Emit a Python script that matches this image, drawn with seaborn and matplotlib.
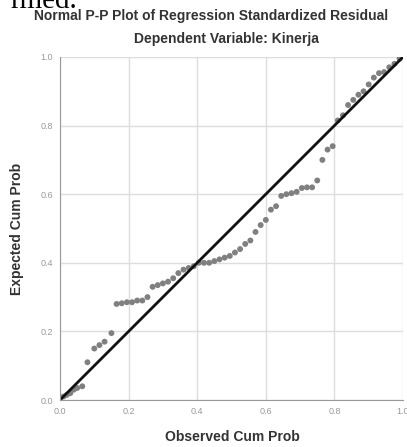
import matplotlib
matplotlib.use("Agg")
import matplotlib.pyplot as plt
import seaborn as sns
import pandas as pd

# observed vs expected cumulative probability
observed = [0.01, 0.02, 0.03, 0.04, 0.05, 0.065, 0.08, 0.10, 0.115, 0.13,
            0.15, 0.165, 0.18, 0.195, 0.21, 0.225, 0.24, 0.255, 0.27, 0.285,
            0.30, 0.315, 0.33, 0.345, 0.36, 0.375, 0.39, 0.405, 0.42, 0.435,
            0.45, 0.465, 0.48, 0.495, 0.51, 0.525, 0.54, 0.555, 0.57, 0.585,
            0.60, 0.615, 0.63, 0.645, 0.66, 0.675, 0.69, 0.705, 0.72, 0.735,
            0.75, 0.765, 0.78, 0.795, 0.81, 0.825, 0.84, 0.855, 0.87, 0.885,
            0.90, 0.915, 0.93, 0.945, 0.96, 0.975, 0.99]
expected = [0.01, 0.015, 0.02, 0.03, 0.035, 0.04, 0.11, 0.15, 0.16, 0.17,
            0.195, 0.28, 0.282, 0.285, 0.285, 0.29, 0.29, 0.30, 0.33, 0.335,
            0.34, 0.345, 0.355, 0.37, 0.38, 0.385, 0.39, 0.40, 0.40, 0.40,
            0.405, 0.41, 0.415, 0.42, 0.43, 0.44, 0.455, 0.465, 0.49, 0.51,
            0.525, 0.555, 0.565, 0.595, 0.60, 0.603, 0.607, 0.618, 0.62, 0.62,
            0.64, 0.70, 0.73, 0.74, 0.815, 0.83, 0.86, 0.875, 0.89, 0.90,
            0.92, 0.94, 0.953, 0.956, 0.97, 0.98, 0.995]
ref_line = [0.0, 1.0]
ticks = [0.0, 0.2, 0.4, 0.6, 0.8, 1.0]
tick_labels = ["0.0", "0.2", "0.4", "0.6", "0.8", "1.0"]

df = pd.DataFrame({"obs": observed, "exp": expected})

sns.set_style("whitegrid")
plt.rcParams['font.family'] = ['Liberation Sans', 'DejaVu Sans']

W, H = 407, 447
fig = plt.figure(figsize=(W / 100, H / 100), dpi=100)
ax = fig.add_axes([60 / W, (H - 400) / H, (403 - 60) / W, (400 - 57) / H])

sns.lineplot(x=ref_line, y=ref_line, ax=ax, color="#111111", linewidth=2.0)
sns.scatterplot(data=df, x="obs", y="exp", ax=ax, color="#808080",
                s=18, edgecolor="none")

ax.set_xlim(0, 1)
ax.set_ylim(0, 1)
ax.set_xticks(ticks)
ax.set_yticks(ticks)
ax.set_xticklabels(tick_labels)
ax.set_yticklabels(tick_labels)
ax.tick_params(labelsize=6.5, colors="#999999", length=0, pad=5)
ax.grid(color="#dddddd", linewidth=1)
for s in ["top", "right"]:
    ax.spines[s].set_visible(False)
for s in ["left", "bottom"]:
    ax.spines[s].set_color("#999999")
    ax.spines[s].set_linewidth(0.8)

ax.set_xlabel("Observed Cum Prob", fontsize=10, fontweight="bold",
              color="#333333", va="center")
ax.set_ylabel("Expected Cum Prob", fontsize=10, fontweight="bold",
              color="#333333", va="center")
ax.xaxis.set_label_coords((232 - 60) / 343, (400 - 437) / 343)
ax.yaxis.set_label_coords((17 - 60) / 343, 0.5)

fig.text(211 / W, 1 - 16 / H, "Normal P-P Plot of Regression Standardized Residual",
         ha="center", va="center", fontsize=10, fontweight="bold", color="#333333")
fig.text(226 / W, 1 - 39 / H, "Dependent Variable: Kinerja",
         ha="center", va="center", fontsize=10, fontweight="bold", color="#333333")
# cut-off text remnant at top of the screenshot
fig.text(10 / W, 1 - 8 / H, "rmed.", ha="left", va="baseline",
         fontsize=21, family="Liberation Serif", color="black")

fig.savefig("out.png", dpi=100)
